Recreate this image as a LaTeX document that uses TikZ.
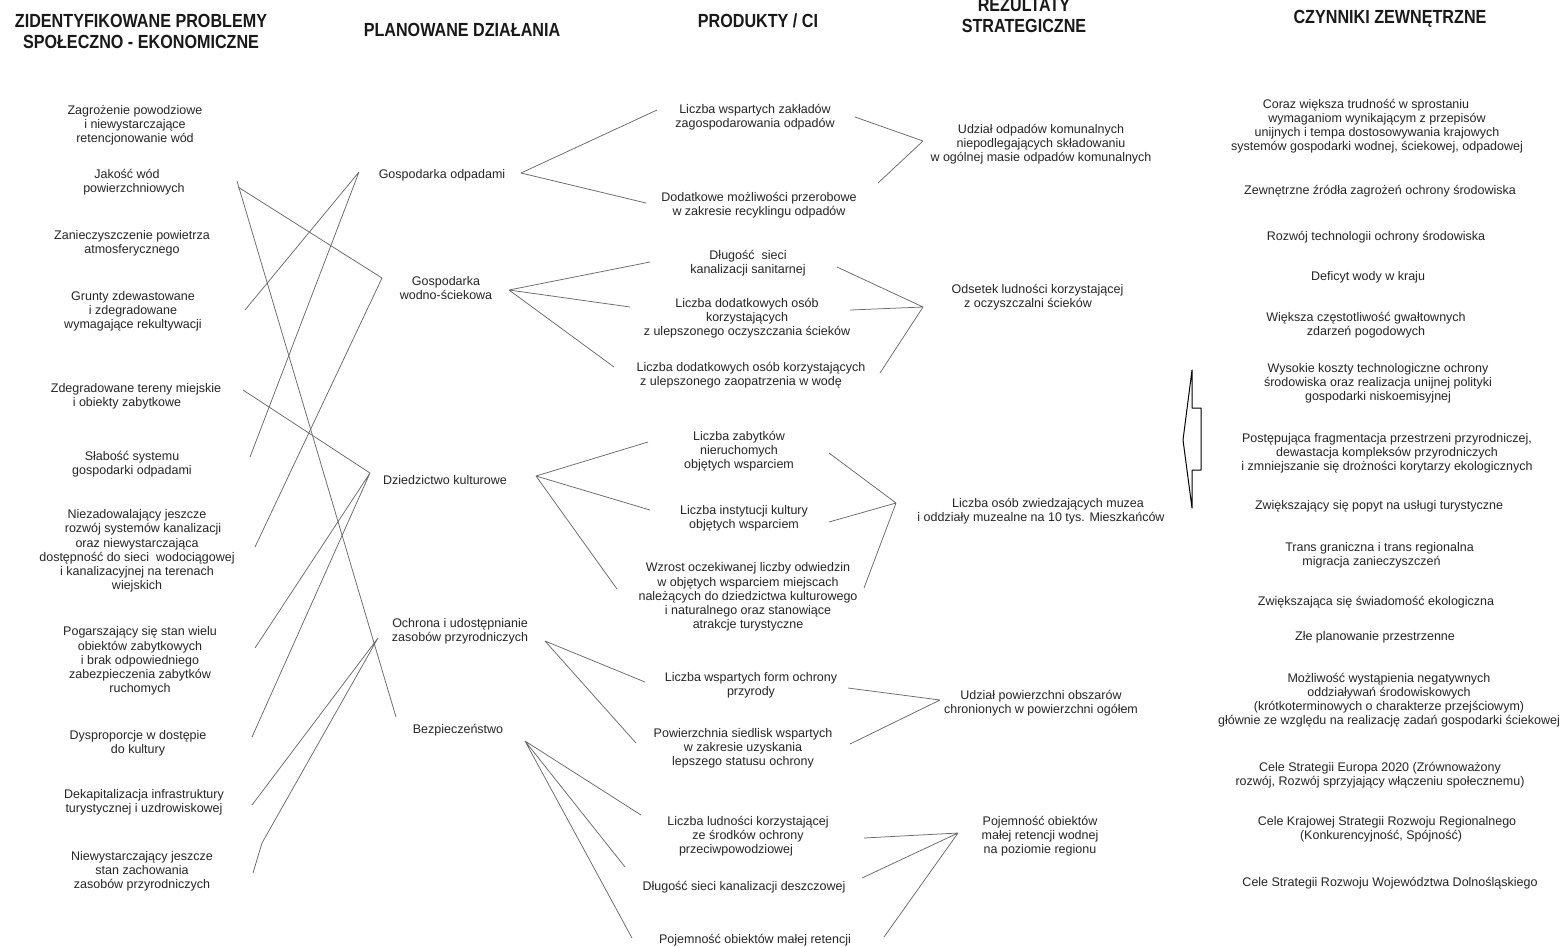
\documentclass[tikz,border=0pt]{standalone}
\usepackage{fontspec}
\setmainfont{Liberation Sans}
\newfontfamily\hdrf{Liberation Sans}[FakeStretch=0.85]
\definecolor{ink}{HTML}{262626}
\definecolor{lc}{HTML}{6A6A6A}
\begin{document}
\begin{tikzpicture}[x=1pt,y=-1pt,
  txt/.style={font=\fontsize{12.5}{14.2}\selectfont, text=ink, align=center, inner sep=0pt},
  hdr/.style={font=\hdrf\bfseries\fontsize{19}{21}\selectfont, text=black!90, align=center, inner sep=0pt},
  con/.style={draw=lc, line width=0.75pt},
  blockarrow/.style={draw=black, line width=1pt, line join=round}]
\useasboundingbox[fill=white] (0,0) rectangle (1562,946);

% ---------- headers
\node[hdr] (h1) at (141,31) {ZIDENTYFIKOWANE PROBLEMY\\SPOŁECZNO - EKONOMICZNE};
\node[hdr] (h2) at (462,30) {PLANOWANE DZIAŁANIA};
\node[hdr] (h3) at (758,21) {PRODUKTY / CI};
\node[hdr] (h4) at (1024,16) {REZULTATY\\STRATEGICZNE};
\node[hdr] (h5) at (1390,19) {CZYNNIKI ZEWNĘTRZNE};

% ---------- problems
\node[txt] (p1) at (135,125) {Zagrożenie powodziowe\\i niewystarczające\\retencjonowanie wód};
\node[txt] (p2) at (134,182) {Jakość wód\hspace*{14pt}\\powierzchniowych};
\node[txt] (p3) at (132,243) {Zanieczyszczenie powietrza\\atmosferycznego};
\node[txt] (p4) at (133,311) {Grunty zdewastowane\\i zdegradowane\\wymagające rekultywacji};
\node[txt] (p5) at (136,396) {Zdegradowane tereny miejskie\\i obiekty zabytkowe\hspace*{18pt}};
\node[txt] (p6) at (132,464) {Słabość systemu\\gospodarki odpadami};
\node[txt] (p7) at (137,551) {Niezadowalający jeszcze\\\hspace*{12pt}rozwój systemów kanalizacji\\oraz niewystarczająca\\dostępność do sieci\ \ wodociągowej\\i kanalizacyjnej na terenach\\wiejskich};
\node[txt] (p8) at (140,661) {Pogarszający się stan wielu\\obiektów zabytkowych\\i brak odpowiedniego\\zabezpieczenia zabytków\\ruchomych};
\node[txt] (p9) at (138,743) {Dysproporcje w dostępie\\do kultury};
\node[txt] (p10) at (144,802) {Dekapitalizacja infrastruktury\\turystycznej i uzdrowiskowej};
\node[txt] (p11) at (142,871) {Niewystarczający jeszcze\\stan zachowania\\zasobów przyrodniczych};

% ---------- actions
\node[txt] (a1) at (442,175) {Gospodarka odpadami};
\node[txt] (a2) at (446,288) {Gospodarka\\wodno-ściekowa};
\node[txt] (a3) at (445,480) {Dziedzictwo kulturowe};
\node[txt] (a4) at (460,631) {Ochrona i udostępnianie\\zasobów przyrodniczych};
\node[txt] (a5) at (458,730) {Bezpieczeństwo};

% ---------- products
\node[txt] (c1) at (755,117) {Liczba wspartych zakładów\\zagospodarowania odpadów};
\node[txt] (c2) at (759,205) {Dodatkowe możliwości przerobowe\\w zakresie recyklingu odpadów};
\node[txt] (c3) at (748,263) {Długość\ \ sieci\\kanalizacji sanitarnej};
\node[txt] (c4) at (747,318) {Liczba dodatkowych osób\\korzystających\\z ulepszonego oczyszczania ścieków};
\node[txt] (c5) at (751,375) {Liczba dodatkowych osób korzystających\\z ulepszonego zaopatrzenia w wodę\hspace*{20pt}};
\node[txt] (c6) at (739,451) {Liczba zabytków\\nieruchomych\\objętych wsparciem};
\node[txt] (c7) at (744,518) {Liczba instytucji kultury\\objętych wsparciem};
\node[txt] (c8) at (748,597) {Wzrost oczekiwanej liczby odwiedzin\\w objętych wsparciem miejscach\\należących do dziedzictwa kulturowego\\i naturalnego oraz stanowiące\\atrakcje turystyczne};
\node[txt] (c9) at (751,685) {Liczba wspartych form ochrony\\przyrody};
\node[txt] (c10) at (743,748) {Powierzchnia siedlisk wspartych\\w zakresie uzyskania\\lepszego statusu ochrony};
\node[txt] (c11) at (748,836) {Liczba ludności korzystającej\\ze środków ochrony\hspace*{24pt}\\przeciwpowodziowej\hspace*{24pt}};
\node[txt] (c12) at (744,887) {Długość sieci kanalizacji deszczowej};
\node[txt] (c13) at (755,940) {Pojemność obiektów małej retencji};

% ---------- strategic results
\node[txt] (r1n) at (1041,144) {Udział odpadów komunalnych\\niepodlegających składowaniu\\w ogólnej masie odpadów komunalnych};
\node[txt] (r2n) at (1037.5,297.5) {Odsetek ludności korzystającej\\z oczyszczalni ścieków\hspace*{19pt}};
\node[txt] (r3n) at (1041,511) {\hspace*{14pt}Liczba osób zwiedzających muzea\\i oddziały muzealne na 10 tys. Mieszkańców};
\node[txt] (r4n) at (1041,703) {Udział powierzchni obszarów\\chronionych w powierzchni ogółem};
\node[txt] (r5n) at (1040,836) {Pojemność obiektów\\małej retencji wodnej\\na poziomie regionu};

% ---------- external factors
\node[txt] (f1) at (1377,126) {Coraz większa trudność w sprostaniu\hspace*{22pt}\\wymaganiom wynikającym z przepisów\hspace*{20pt}\\unijnych i tempa dostosowywania krajowych\hspace*{12pt}\\systemów gospodarki wodnej, ściekowej, odpadowej};
\node[txt] (f2) at (1380,191) {Zewnętrzne źródła zagrożeń ochrony środowiska};
\node[txt] (f3) at (1376,237) {Rozwój technologii ochrony środowiska};
\node[txt] (f4) at (1368,277) {Deficyt wody w kraju};
\node[txt] (f5) at (1366,325) {Większa częstotliwość gwałtownych\\zdarzeń pogodowych};
\node[txt] (f6) at (1378,383) {Wysokie koszty technologiczne ochrony\\środowiska oraz realizacja unijnej polityki\\gospodarki niskoemisyjnej};
\node[txt] (f7) at (1387,453) {Postępująca fragmentacja przestrzeni przyrodniczej,\\dewastacja kompleksów przyrodniczych\\i zmniejszanie się drożności korytarzy ekologicznych};
\node[txt] (f8) at (1379,506) {Zwiększający się popyt na usługi turystyczne};
\node[txt] (f9) at (1379.5,555) {Trans graniczna i trans regionalna\\migracja zanieczyszczeń\hspace*{16pt}};
\node[txt] (f10) at (1376,602) {Zwiększająca się świadomość ekologiczna};
\node[txt] (f11) at (1375,637) {Złe planowanie przestrzenne};
\node[txt] (f12) at (1389,700) {Możliwość wystąpienia negatywnych\\oddziaływań środowiskowych\\(krótkoterminowych o charakterze przejściowym)\\głównie ze względu na realizację zadań gospodarki ściekowej};
\node[txt] (f13) at (1380,775) {Cele Strategii Europa 2020 (Zrównoważony\\rozwój, Rozwój sprzyjający włączeniu społecznemu)};
\node[txt] (f14) at (1387,829) {Cele Krajowej Strategii Rozwoju Regionalnego\\(Konkurencyjność, Spójność)\hspace*{12pt}};
\node[txt] (f15) at (1390,883) {Cele Strategii Rozwoju Województwa Dolnośląskiego};

% ---------- block arrow
\draw[blockarrow] (1192,370) -- (1192,408) -- (1201,408) -- (1201,470) -- (1192,470) -- (1192,508) -- (1183,440) -- cycle;

% ---------- connector end points
\coordinate (e2a) at (237,181);
\coordinate (e2b) at (238,187);
\coordinate (e4) at (245,310);
\coordinate (e5) at (243,390);
\coordinate (e6) at (250,457);
\coordinate (e7) at (255,547);
\coordinate (e8) at (255,648);
\coordinate (e9) at (252,737);
\coordinate (e10) at (252,805);
\coordinate (k11) at (262,843);
\coordinate (e11) at (253,873);

\coordinate (a1l) at (359,172);
\coordinate (a2l) at (382,278);
\coordinate (a3l) at (370,473);
\coordinate (a4l) at (378,638);
\coordinate (a5l) at (396,717);

\coordinate (a1r) at (521,173);
\coordinate (a2r) at (509,290);
\coordinate (a3r) at (536,476);
\coordinate (a4r) at (545,641);
\coordinate (a5r) at (525,741);

\coordinate (c1l) at (657,110);  \coordinate (c1r) at (855,117);
\coordinate (c2l) at (646,203);  \coordinate (c2r) at (878,183);
\coordinate (c3l) at (650,262);  \coordinate (c3r) at (837,267);
\coordinate (c4l) at (630,307);  \coordinate (c4r) at (850,310);
\coordinate (c5l) at (614,367);  \coordinate (c5r) at (880,373);
\coordinate (c6l) at (648,442);  \coordinate (c6r) at (829,453);
\coordinate (c7l) at (650,510);  \coordinate (c7r) at (829,522);
\coordinate (c8l) at (617,589);  \coordinate (c8r) at (864,588);
\coordinate (c9l) at (645,682);  \coordinate (c9r) at (848,688);
\coordinate (c10l) at (636,743); \coordinate (c10r) at (850,744);
\coordinate (c11l) at (641,815); \coordinate (c11r) at (864,838);
\coordinate (c12l) at (625,867); \coordinate (c12r) at (862,878);
\coordinate (c13l) at (632,938); \coordinate (c13r) at (884,937);

\coordinate (r1) at (923,141);
\coordinate (r2) at (923,307);
\coordinate (r3) at (896,503);
\coordinate (r4) at (940,700);
\coordinate (r5) at (958,833);

% ---------- problems -> actions
\draw[con] (e2a) -- (a5l);
\draw[con] (e2b) -- (a2l) (a2l) -- (e7);
\draw[con] (e4) -- (a1l) (a1l) -- (e6);
\draw[con] (e5) -- (a3l) (a3l) -- (e8) (a3l) -- (e9);
\draw[con] (e10) -- (a4l) (a4l) -- (k11) -- (e11);

% ---------- actions -> products
\draw[con] (a1r) -- (c1l) (a1r) -- (c2l);
\draw[con] (a2r) -- (c3l) (a2r) -- (c4l) (a2r) -- (c5l);
\draw[con] (a3r) -- (c6l) (a3r) -- (c7l) (a3r) -- (c8l);
\draw[con] (a4r) -- (c9l) (a4r) -- (c10l);
\draw[con] (a5r) -- (c11l) (a5r) -- (c12l) (a5r) -- (c13l);

% ---------- products -> results
\draw[con] (c1r) -- (r1) (c2r) -- (r1);
\draw[con] (c3r) -- (r2) (c4r) -- (r2) (c5r) -- (r2);
\draw[con] (c6r) -- (r3) (c7r) -- (r3) (c8r) -- (r3);
\draw[con] (c9r) -- (r4) (c10r) -- (r4);
\draw[con] (c11r) -- (r5) (c12r) -- (r5) (c13r) -- (r5);
\end{tikzpicture}
\end{document}
